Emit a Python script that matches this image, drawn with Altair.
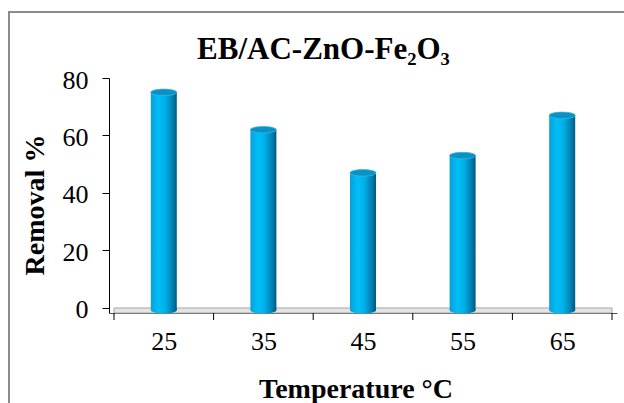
import altair as alt
import pandas as pd

# ---- data ----
temps = [25, 35, 45, 55, 65]
removal = [75, 62, 47, 53, 67]
boundaries = [20, 30, 40, 50, 60, 70]
y_ticks = [0, 20, 40, 60, 80]
title_text = "EB/AC-ZnO-Fe₂O₃"
x_title = "Temperature °C"
y_title = "Removal %"

FONT = "Liberation Serif"
LFONT = "'Liberation Serif', 'Times New Roman', serif"
df = pd.DataFrame({"temp": temps, "removal": removal})
df_b = pd.DataFrame({"b": boundaries})

W, H = 508, 235
xs = alt.Scale(domain=[20, 70], nice=False, zero=False)
ys = alt.Scale(domain=[-1.74, 80], nice=False, zero=False)

ellipse = "M-1,0A1,0.25,0,1,0,1,0A1,0.25,0,1,0,-1,0Z"

body_grad = alt.Gradient(
    gradient="linear", x1=0, x2=1, y1=0, y2=0,
    stops=[
        alt.GradientStop(color="#0a9fd8", offset=0),
        alt.GradientStop(color="#00bff8", offset=0.3),
        alt.GradientStop(color="#00b0e8", offset=0.55),
        alt.GradientStop(color="#0086b8", offset=0.8),
        alt.GradientStop(color="#005a80", offset=1),
    ],
)

# outer frame
frame = alt.Chart(pd.DataFrame({"f": [1]})).mark_rect(
    filled=False, stroke="#8c8c8c", strokeWidth=2
).encode(
    x=alt.value(-100), x2=alt.value(720), y=alt.value(-66), y2=alt.value(420)
)

# floor
floor = alt.Chart(pd.DataFrame({"x0": [20], "x1": [70], "y0": [-1.74], "y1": [0]})).mark_rect(
    fill="#e4e4e4", stroke="#a6a6a6", strokeWidth=1
).encode(
    x=alt.X("x0:Q", scale=xs), x2="x1:Q",
    y=alt.Y("y0:Q", scale=ys), y2="y1:Q",
)

base = alt.Chart(df)

bars = base.mark_bar(size=26, fill=body_grad).encode(
    x=alt.X("temp:Q", scale=xs,
            axis=alt.Axis(values=temps, ticks=False, domain=True, domainColor="#505050",
                          domainWidth=1, labelFont=LFONT, labelFontSize=26,
                          labelFontWeight="normal",
                          labelColor="black", labelPadding=15, format="d",
                          grid=False, title=None)),
    y=alt.Y("removal:Q", scale=ys,
            axis=alt.Axis(values=y_ticks, domainColor="black", tickColor="black",
                          tickSize=7, labelFont=LFONT, labelFontSize=26,
                          labelFontWeight="normal",
                          labelColor="black", labelPadding=14, labelOffset=2,
                          grid=False, title=None)),
    y2=alt.datum(-0.8),
)

bottom_cap = base.mark_point(shape=ellipse, size=676, filled=True, fill=body_grad,
                             strokeWidth=0, opacity=1).encode(
    x=alt.X("temp:Q", scale=xs), y=alt.datum(-0.8)
)

top_cap = base.mark_point(shape=ellipse, size=676, filled=True, fill="#0a92c4",
                          stroke="#3fb4e2", strokeWidth=0.8, opacity=1).encode(
    x=alt.X("temp:Q", scale=xs), y=alt.Y("removal:Q", scale=ys)
)

xticks = alt.Chart(df_b).mark_rule(color="black", strokeWidth=1).encode(
    x=alt.X("b:Q", scale=xs), y=alt.value(H), y2=alt.value(H + 7)
)

title = alt.Chart(pd.DataFrame({"t": [title_text]})).mark_text(
    font=FONT, fontSize=31, fontWeight="bold", align="center", baseline="alphabetic",
    color="black"
).encode(text="t:N", x=alt.value(214.5), y=alt.value(-19))

ytitle = alt.Chart(pd.DataFrame({"t": [y_title]})).mark_text(
    font=FONT, fontSize=28, fontWeight="bold", align="center", baseline="middle",
    angle=270, color="black"
).encode(text="t:N", x=alt.value(-73), y=alt.value(127))

xtitle = alt.Chart(pd.DataFrame({"t": [x_title]})).mark_text(
    font=FONT, fontSize=28, fontWeight="bold", align="center", baseline="alphabetic",
    color="black"
).encode(text="t:N", x=alt.value(247), y=alt.value(320))

chart = alt.layer(frame, floor, bars, bottom_cap, top_cap, xticks, title, ytitle, xtitle).properties(
    width=W, height=H,
    autosize=alt.AutoSizeParams(type="none"),
    padding={"left": 109, "top": 78, "right": 7, "bottom": 90},
    background="white",
).configure_view(stroke=None).configure_axis(labelFont=LFONT)

chart.save("out.html", embed_options={"renderer": "svg", "actions": False})
